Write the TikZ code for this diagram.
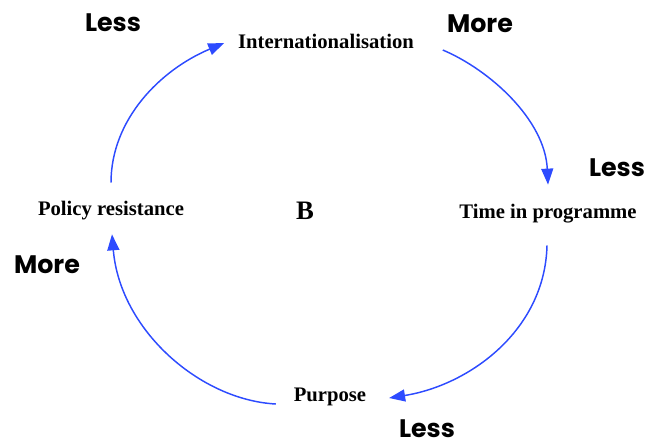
\documentclass[tikz,border=0pt]{standalone}
\usepackage{fontspec}
\setmainfont{Liberation Serif}
\newfontfamily\comic{Poppins}
\usetikzlibrary{arrows.meta,calc}
\definecolor{loopblue}{RGB}{45,75,255}
\tikzset{
  var/.style={font=\fontsize{15.5}{18}\selectfont\bfseries, inner sep=2pt},
  pol/.style={font=\comic\fontsize{19}{22}\selectfont\bfseries, inner sep=0pt},
  link/.style={draw=loopblue, line width=1.1pt, -{Triangle[length=12pt,width=9pt]}},
}
\begin{document}
\begin{tikzpicture}[x=0.75pt,y=-0.75pt]
\useasboundingbox (0,0) rectangle (645,443);
\node[var] (int) at (326,41) {Internationalisation};
\node[var] (tim) at (548,214) {Time in programme};
\node[var] (pur) at (330,397) {Purpose};
\node[var] (pol) at (111,211) {Policy resistance};
\node[font=\fontsize{20}{22}\selectfont\bfseries] (b) at (305,211) {B};
\node[pol] (l1) at (113,23) {Less};
\node[pol] (m1) at (480,24) {More};
\node[pol] (l2) at (617,168) {Less};
\node[pol] (m2) at (47,265) {More};
\node[pol] (l3) at (427,429) {Less};
\draw[link] ($(pol.north)+(0,-16)$) .. controls +(0,-63) and (160,70) .. ($(int.west)+(-11,2)$);
\draw[link] ($(int.east)+(26,9)$) .. controls (490,70) and (545,120) .. ($(tim.north)+(0,-17)$);
\draw[link] ($(tim.south)+(-1,19)$) .. controls (545,330) and (470,385) .. ($(pur.east)+(20,1)$);
\draw[link] ($(pur.west)+(-15,7)$) .. controls (200,400) and (120,330) .. ($(pol.south)+(1,11)$);
\end{tikzpicture}
\end{document}
